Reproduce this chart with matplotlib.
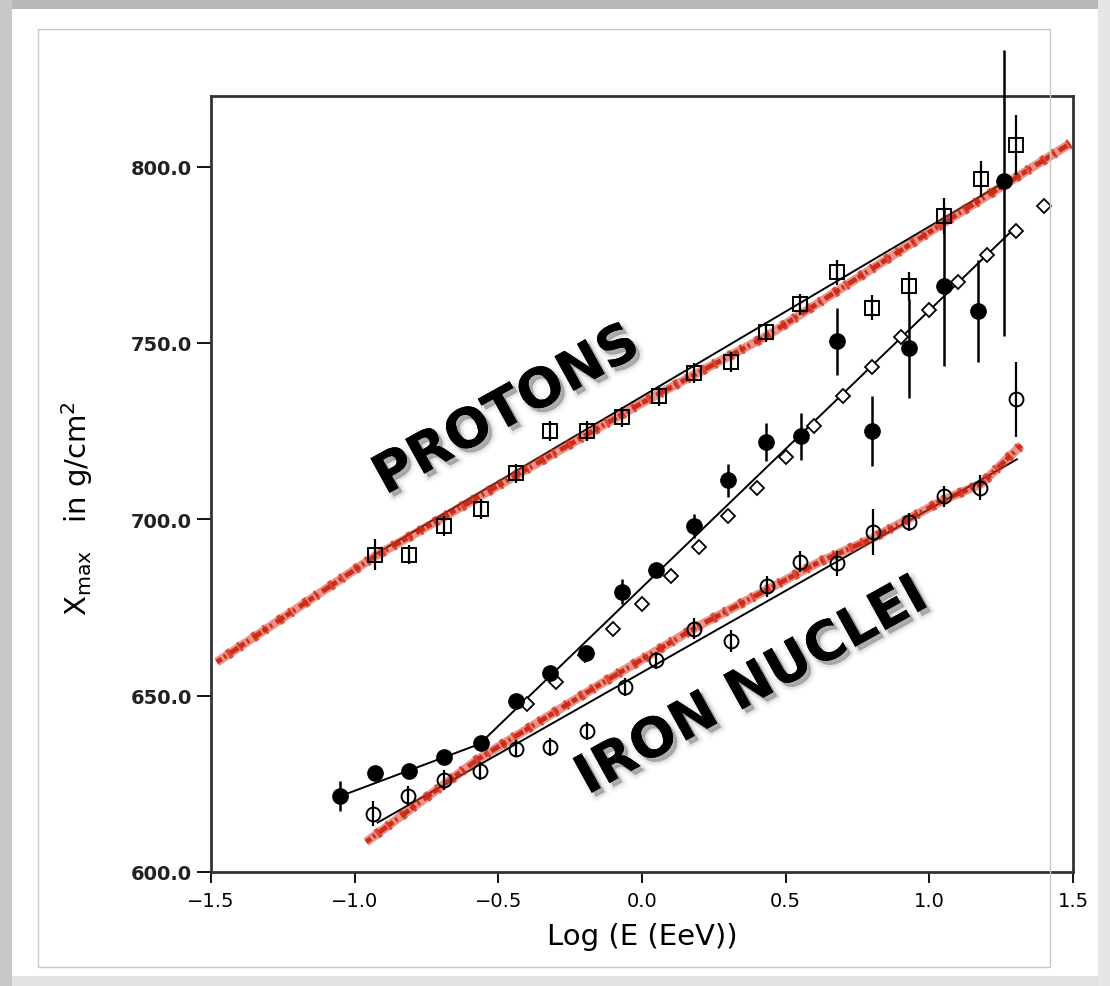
import matplotlib
matplotlib.use("Agg")
import matplotlib.pyplot as plt
import matplotlib.patheffects as pe
from matplotlib.patches import Rectangle

# open squares (with error bars)
sq_x = [-0.93, -0.81, -0.69, -0.56, -0.44, -0.32, -0.19, -0.07, 0.06, 0.18, 0.31, 0.43, 0.55, 0.68, 0.80, 0.93, 1.05, 1.18, 1.30]
sq_y = [690, 690, 698, 703, 713, 725, 725, 729, 735, 741.5, 744.5, 753, 761, 770, 760, 766, 786, 796.5, 806]
sq_err = [4.5, 2.8, 2.8, 2.8, 2.8, 2.8, 2.8, 2.8, 2.8, 2.8, 2.8, 2.8, 3, 3.5, 3.5, 4, 5, 5, 8.5]

# filled circles (with error bars, lower / upper)
fc_x = [-1.05, -0.93, -0.81, -0.69, -0.56, -0.44, -0.32, -0.195, -0.07, 0.05, 0.18, 0.30, 0.43, 0.555, 0.68, 0.80, 0.93, 1.05, 1.17, 1.26]
fc_y = [621.5, 628, 628.5, 632.5, 636.5, 648.5, 656.5, 662, 679.5, 685.5, 698, 711, 722, 723.5, 750.5, 725, 748.5, 766, 759, 796]
fc_err_lo = [4.3, 1.5, 1.5, 1.5, 1.5, 1.5, 1.5, 1.5, 3.5, 2, 3.4, 4.8, 5.4, 6.6, 9.5, 10, 14, 22.5, 14.5, 44]
fc_err_hi = [4.3, 1.5, 1.5, 1.5, 1.5, 1.5, 1.5, 1.5, 3.5, 2, 3.4, 4.8, 5.4, 6.6, 9.5, 10, 14, 22.5, 14.5, 37]

# open diamonds
dm_x = [-0.4, -0.3, -0.2, -0.1, 0.0, 0.1, 0.2, 0.3, 0.4, 0.5, 0.6, 0.7, 0.8, 0.9, 1.0, 1.1, 1.2, 1.3, 1.4]
dm_y = [647.7, 654, 661.5, 669, 676, 684, 692, 701, 709, 717.7, 726.5, 735, 743.3, 751.8, 759.4, 767.4, 774.8, 781.8, 788.7]

# open circles (with error bars)
oc_x = [-0.935, -0.815, -0.69, -0.565, -0.44, -0.32, -0.19, -0.06, 0.05, 0.18, 0.31, 0.435, 0.55, 0.68, 0.805, 0.93, 1.05, 1.175, 1.30]
oc_y = [616.5, 621.5, 626, 628.7, 635, 635.5, 640, 652.5, 660, 669, 665.5, 681, 688, 687.5, 696.5, 699.3, 706.5, 709, 734]
oc_err = [3.5, 2.8, 2.8, 2.5, 2.5, 2.5, 2.5, 2.5, 2.5, 3, 3, 3, 3, 3.5, 6.5, 2.5, 3, 3.5, 10.7]

# black fit lines
fit_mix_x = [-1.05, -0.565, 1.29]
fit_mix_y = [621.5, 636.3, 782]
fit_p_x = [-0.93, 1.27]
fit_p_y = [690, 796]
fit_fe_x = [-0.92, 1.305]
fit_fe_y = [614, 717]

# red simulation bands
sim_p_x = [-1.48, -0.93, -0.81, 0.0, 0.435, 1.05, 1.49]
sim_p_y = [659.5, 689.5, 695, 733, 752, 784, 806.5]
sim_fe_x = [-0.96, -0.57, -0.15, 0.18, 0.62, 0.8, 1.05, 1.18, 1.32]
sim_fe_y = [608.5, 632, 653, 669, 688, 694.5, 705.5, 710, 721]

W, H = 1110, 987
fig = plt.figure(figsize=(W / 100, H / 100), dpi=100)
fig.patch.set_facecolor("white")

# window frame
fig.add_artist(Rectangle((0, 0), 1, 10 / H, transform=fig.transFigure, color="#e2e2e2", lw=0))
fig.add_artist(Rectangle((0, 1 - 10 / H), 1, 10 / H, transform=fig.transFigure, color="#b8b8b8", lw=0))
fig.add_artist(Rectangle((0, 0), 12 / W, 1, transform=fig.transFigure, color="#c8c8c8", lw=0))
fig.add_artist(Rectangle((1098 / W, 0), 12 / W, 1, transform=fig.transFigure, color="#e6e6e6", lw=0))
fig.add_artist(Rectangle((38 / W, 1 - 968 / H), (1050 - 38) / W, (968 - 30) / H,
                         transform=fig.transFigure, fill=False, ec="#c8c8c8", lw=1))

ax = fig.add_axes([211 / W, 1 - 873 / H, (1073 - 211) / W, (873 - 97) / H])

# simulations (speckled red bands)
for sx, sy in [(sim_p_x, sim_p_y), (sim_fe_x, sim_fe_y)]:
    ax.plot(sx, sy, color="#dc3b26", lw=6.5, alpha=0.55, solid_capstyle="butt", zorder=3)
    ax.plot(sx, sy, color="#c9220f", lw=3.5, ls=(0, (1.2, 0.6, 0.5, 1.0, 2.0, 0.4)), alpha=0.9, zorder=3)
    ax.plot(sx, sy, color="#d02a18", lw=7.5, ls=(0.4, (0.25, 1.4, 0.4, 0.9)), alpha=0.7, zorder=3)

# fits
ax.plot(fit_mix_x, fit_mix_y, color="black", lw=1.4, zorder=2)
ax.plot(fit_p_x, fit_p_y, color="black", lw=1.4, zorder=2)
ax.plot(fit_fe_x, fit_fe_y, color="black", lw=1.4, zorder=2)

# data
ax.errorbar(sq_x, sq_y, yerr=sq_err, fmt="s", ms=10, mfc="none", mec="black", mew=1.4,
            ecolor="black", elinewidth=1.6, capsize=0, zorder=4, clip_on=False)
ax.errorbar(oc_x, oc_y, yerr=oc_err, fmt="o", ms=10, mfc="none", mec="black", mew=1.4,
            ecolor="black", elinewidth=1.6, capsize=0, zorder=4, clip_on=False)
ax.plot(dm_x, dm_y, "D", ms=7, mfc="white", mec="black", mew=1.3, zorder=4, clip_on=False)
ax.errorbar(fc_x, fc_y, yerr=[fc_err_lo, fc_err_hi], fmt="o", ms=11, mfc="black", mec="black",
            ecolor="black", elinewidth=1.8, capsize=0, zorder=5, clip_on=False)

# soft drop shadow for the labels
shadow = [pe.Stroke(offset=(3, -3), linewidth=7, foreground="0.6", alpha=0.08),
          pe.Stroke(offset=(3, -3), linewidth=3.5, foreground="0.5", alpha=0.15),
          pe.withSimplePatchShadow(offset=(3, -3), shadow_rgbFace="0.45", alpha=0.25),
          pe.Normal()]
ax.text(-0.47, 730.8, "PROTONS", rotation=29, rotation_mode="anchor", ha="center", va="center",
        fontsize=39, fontweight="bold", color="black", path_effects=shadow, zorder=6)
ax.text(0.383, 652.5, "IRON NUCLEI", rotation=29, rotation_mode="anchor", ha="center", va="center",
        fontsize=39, fontweight="bold", color="black", path_effects=shadow, zorder=6)

ax.set_xlim(-1.5, 1.5)
ax.set_ylim(600, 820)
ax.set_xticks([-1.5, -1.0, -0.5, 0.0, 0.5, 1.0, 1.5])
ax.set_xticklabels(["\u22121.5", "\u22121.0", "\u22120.5", "0.0", "0.5", "1.0", "1.5"])
ax.set_yticks([600, 650, 700, 750, 800])
ax.set_yticklabels(["600.0", "650.0", "700.0", "750.0", "800.0"])
ax.tick_params(axis="x", direction="out", length=8, width=1.3, labelsize=14, pad=6)
ax.tick_params(axis="y", direction="out", length=10, width=1.3, labelsize=14, pad=3.5)
for lab in ax.get_yticklabels():
    lab.set_fontweight("bold")
    lab.set_color("#222222")
for s in ax.spines.values():
    s.set_linewidth(2)
    s.set_color("#333333")

ax.set_xlabel("Log (E (EeV))", fontsize=21, labelpad=8)
ax.set_ylabel(r"X$_{\rm max}$   in g/cm$^2$", fontsize=21)
ax.yaxis.set_label_coords(-0.135, 0.47)

fig.savefig("out.png", dpi=100)
